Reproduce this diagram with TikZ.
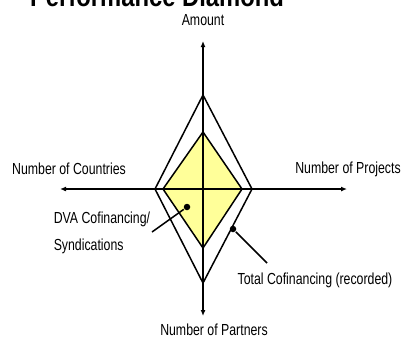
\documentclass[tikz,border=0pt]{standalone}
\usepackage{fontspec}
\setmainfont{Liberation Sans}[FakeStretch=0.77]
\newfontfamily\titlefont{Liberation Sans}[FakeStretch=0.85]
\usetikzlibrary{arrows.meta}

\begin{document}
\begin{tikzpicture}[x=1pt, y=-1pt, line width = 1.5pt, >={Latex[length=6pt,width=5pt]},
  lab/.style={inner sep=0pt, font=\fontsize{16}{24}\selectfont},
  dot/.style={circle, fill, inner sep=0pt, minimum size=6.5pt}]

\useasboundingbox (0,0) rectangle (403,341);

\node [anchor=base, inner sep=0pt, font=\titlefont\bfseries\fontsize{28}{30}\selectfont] (title) at (157,6) {Performance Diamond};

% axes
\coordinate (top) at (203,41);
\coordinate (bottom) at (203,316);
\coordinate (left) at (60,189);
\coordinate (right) at (347,189);

% total cofinancing
\draw (203,95) -- (252,189) -- (203,283) -- (155,189) -- cycle;

% dva cofinancing
\filldraw[fill={rgb,255:red,255;green,255;blue,153}] (203,132) -- (242,189) -- (203,248) -- (163,189) -- cycle;

\draw[<->] (top) -- (bottom);
\draw[<->] (left) -- (right);

\node [lab] (amount) at (203,20) {Amount};
\node [lab] (countries) at (69,169) {Number of Countries};
\node [lab] (projects) at (348,169) {Number of Projects};
\node [lab] (partners) at (214,330) {Number of Partners};

\node [lab, anchor=west, align=left, font=\fontsize{16}{27}\selectfont] (dva) at (53,233) {DVA Cofinancing/\\Syndications};
\node [lab] (total) at (315,280) {Total Cofinancing (recorded)};

\node [dot] (dvadot) at (187,207) {};
\node [dot] (totaldot) at (233,229) {};
\coordinate (dvaend) at (152,232);
\coordinate (totalend) at (267,263);

\draw (dvadot) -- (dvaend);
\draw (totaldot) -- (totalend);

\end{tikzpicture}
\end{document}
